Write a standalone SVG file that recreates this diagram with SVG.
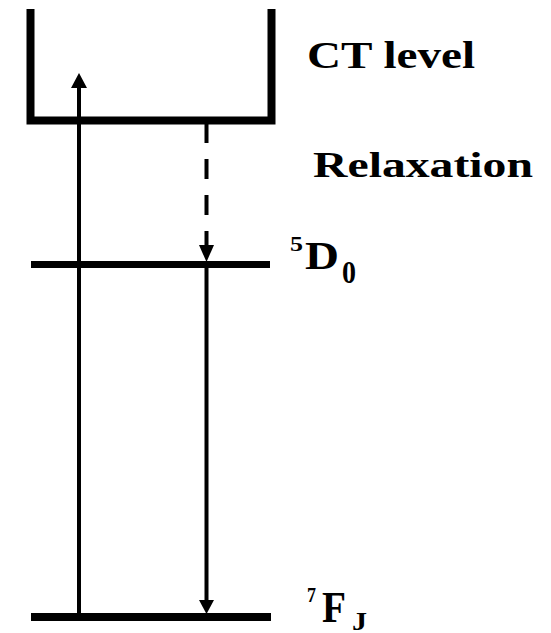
<svg xmlns="http://www.w3.org/2000/svg" width="551" height="633" viewBox="0 0 551 633">
<style>
.lvl{fill:none;stroke:#000;stroke-linecap:butt}
.arr{stroke:#000;stroke-width:4;fill:none}
.head{fill:#000;stroke:none}
.t{font-family:"Liberation Serif","Times New Roman",serif;font-weight:bold;fill:#000}
</style>
<rect width="551" height="633" fill="#fff"/>
<g id="ct-level">
<polyline class="lvl" points="30.5,9 30.5,120.5 271.5,120.5 271.5,9" stroke-width="8" stroke-linejoin="miter"/>
<text class="t" x="307" y="68" font-size="38" textLength="168" lengthAdjust="spacingAndGlyphs">CT level</text>
</g>
<g id="d0-level">
<line class="lvl" x1="31" y1="264.5" x2="270" y2="264.5" stroke-width="7"/>
<text class="t" x="290" y="251" font-size="22" textLength="13" lengthAdjust="spacingAndGlyphs">5</text>
<text class="t" x="305" y="269" font-size="39" textLength="34" lengthAdjust="spacingAndGlyphs">D</text>
<text class="t" x="342" y="283" font-size="32" textLength="14" lengthAdjust="spacingAndGlyphs">0</text>
</g>
<g id="fj-level">
<line class="lvl" x1="31" y1="617" x2="271" y2="617" stroke-width="8"/>
<text class="t" x="307" y="602" font-size="22" textLength="9" lengthAdjust="spacingAndGlyphs">7</text>
<text class="t" x="322" y="622" font-size="44" textLength="24" lengthAdjust="spacingAndGlyphs">F</text>
<text class="t" x="352" y="630" font-size="26" textLength="15" lengthAdjust="spacingAndGlyphs">J</text>
</g>
<g id="relaxation-label">
<text class="t" x="313" y="177" font-size="36" textLength="220" lengthAdjust="spacingAndGlyphs">Relaxation</text>
</g>
<g id="connectors">
<line class="arr" x1="79" y1="617" x2="79" y2="87"/>
<polygon class="head" points="79,73 71,88 87,88"/>
<line class="arr" x1="206.5" y1="123" x2="206.5" y2="246" stroke-width="5" stroke-dasharray="20 16"/>
<polygon class="head" points="199,245 214,245 206.5,262"/>
<line class="arr" x1="206.5" y1="268" x2="206.5" y2="601"/>
<polygon class="head" points="199,600 214,600 206.5,614"/>
</g>
</svg>
